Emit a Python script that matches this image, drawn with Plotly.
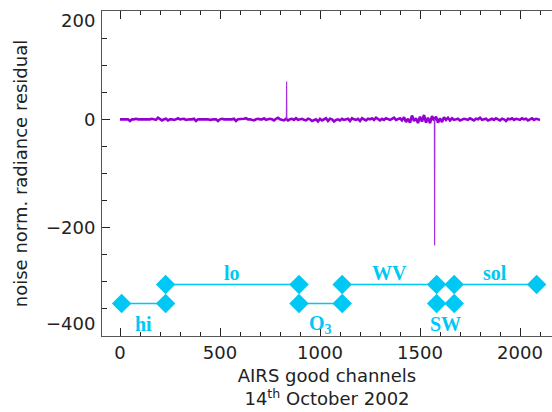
import plotly.graph_objects as go

# ---------------- data ----------------
# residual sampled every 10 good channels (0 .. 2100)
channel_step = 10
residual = [
    # 0 .. 400
    0, 0, 1, 0, 0, -3, 0, 0, 1, 0, 0, 0, -1, 0, 0, 0, 1, 0, -1, 3,
    0, -2, 0, 1, -2, 0, 0, -1, 0, 2, 0, 0, 1, -1, 0, 0, 0, 1, -3, 0, 0,
    # 410 .. 820
    0, 1, 0, 0, -1, 0, 0, 0, -3, 0, 1, 0, 0, -1, 0, 0, 1, -3, 0, 0,
    0, 1, 2, 0, 0, -1, -2, 0, 1, 0, 0, 2, -1, 0, 1, 0, -2, 1, 3, 0, -1, -2,
    # 830 .. 1400
    1, -2, 0, 1, -1, 2, -1, 0, 1, -1, -2, 1, 0, -3, -1, 0, -4, 1, -2, 0,
    2, -3, 1, 0, -4, -1, 0, -2, 1, -1, 0, 1, -3, 2, 0, -1, 1, -3, 2, 0,
    -2, 1, 0, 2, -1, 3, 0, -2, 1, -1, 2, 0, -1, 1, 3, -1, 0, 2,
    # 1410 .. 1650
    -2, 4, -5, 1, -6, 7, -3, 2, -7, 5, -4, 8, -6, 3, -7, 6, -2, 5, -6, 2,
    -5, 4, -1, 3, -2,
    # 1660 .. 2100
    2, -1, 0, 1, -2, 0, 1, 0, -1, 2, 0, -2, 1, 0, 3, -1, 0, 1, -2, 0,
    1, -1, 2, 0, -2, 1, 0, -3, 1, 0, 2, -1, 1, 0, -1, 2, 0, 1, -2, 0,
    2, -1, 1, 0, -1,
]
channels = [i * channel_step for i in range(len(residual))]

# two isolated spikes (base, peak, base)
spike_channels = [[832, 833, 834], [1572, 1573, 1574]]
spike_values = [[0, 70, 0], [0, -233, 0]]

# spectral bands (channel ranges)
band_names = ["hi", "lo", "O<sub>3</sub>", "WV", "SW", "sol"]
band_start = [8, 228, 895, 1111, 1583, 1671]
band_end = [228, 895, 1111, 1583, 1671, 2083]
band_level = [-340, -305, -340, -305, -340, -305]

x_ticks = [0, 500, 1000, 1500, 2000]
y_ticks = [-400, -200, 0, 200]
y_tick_labels = ["\u2212400", "\u2212200", "0", "200"]
y_range = [-400, 200]

# ---------------- figure ----------------
PURPLE = "#9400D3"
CYAN = "#00C8F5"

fig = go.Figure()
fig.add_trace(go.Scatter(x=channels, y=residual, mode="lines",
                         line=dict(color=PURPLE, width=2.6),
                         showlegend=False, hoverinfo="skip"))

sx, sy = [], []
for cs, vs in zip(spike_channels, spike_values):
    sx += cs + [None]
    sy += vs + [None]
fig.add_trace(go.Scatter(x=sx, y=sy, mode="lines",
                         line=dict(color="#A030E0", width=1.2),
                         showlegend=False, hoverinfo="skip"))

annotations = []
for name, s, e, lv in zip(band_names, band_start, band_end, band_level):
    fig.add_trace(go.Scatter(x=[s, e], y=[lv, lv], mode="lines+markers",
                             line=dict(color=CYAN, width=1.5),
                             marker=dict(symbol="diamond", size=15, color=CYAN),
                             showlegend=False, hoverinfo="skip"))
    upper = lv > -320
    annotations.append(dict(
        x=(s + e) / 2, y=lv + 22 if upper else lv - 38,
        xref="x", yref="y", text="<b>%s</b>" % name, showarrow=False,
        font=dict(family="Liberation Serif", size=20, color=CYAN),
        xanchor="center", yanchor="middle"))

axis_font = dict(family="DejaVu Sans", size=18, color="#222222")

# y tick labels kept inside the frame's extent (IDL style)
for v, lab in zip(y_ticks, y_tick_labels):
    shift = 0
    if v == y_range[1]:
        shift = -9
    elif v == y_range[0]:
        shift = 13
    annotations.append(dict(
        x=0, xref="paper", y=v, yref="y", text=lab, showarrow=False,
        xanchor="right", yanchor="middle", xshift=-5, yshift=shift,
        font=axis_font))

fig.update_layout(
    width=552, height=412,
    margin=dict(l=102, r=0, t=11, b=76),
    paper_bgcolor="white", plot_bgcolor="white",
    font=axis_font,
    annotations=annotations,
    xaxis=dict(
        range=[-90, 2160], tickvals=x_ticks, ticks="inside", ticklen=8,
        tickcolor="#222222", showline=True, linecolor="#555555", linewidth=1,
        mirror="ticks", showgrid=False, zeroline=False,
        minor=dict(dtick=100, tick0=0, ticks="inside", ticklen=4,
                   tickcolor="#222222", showgrid=False),
        tickfont=axis_font,
        title=dict(text="AIRS good channels<br>14<sup>th</sup> October 2002",
                   font=axis_font, standoff=7),
    ),
    yaxis=dict(
        range=y_range, tickvals=y_ticks, ticks="inside", ticklen=8,
        tickcolor="#222222", showline=True, linecolor="#555555", linewidth=1,
        mirror=False, showgrid=False, zeroline=False, showticklabels=False,
        minor=dict(dtick=50, tick0=0, ticks="inside", ticklen=5,
                   tickcolor="#222222", showgrid=False),
        title=dict(text="noise norm. radiance residual", font=axis_font,
                   standoff=68),
    ),
)

fig.write_html("out.html")
